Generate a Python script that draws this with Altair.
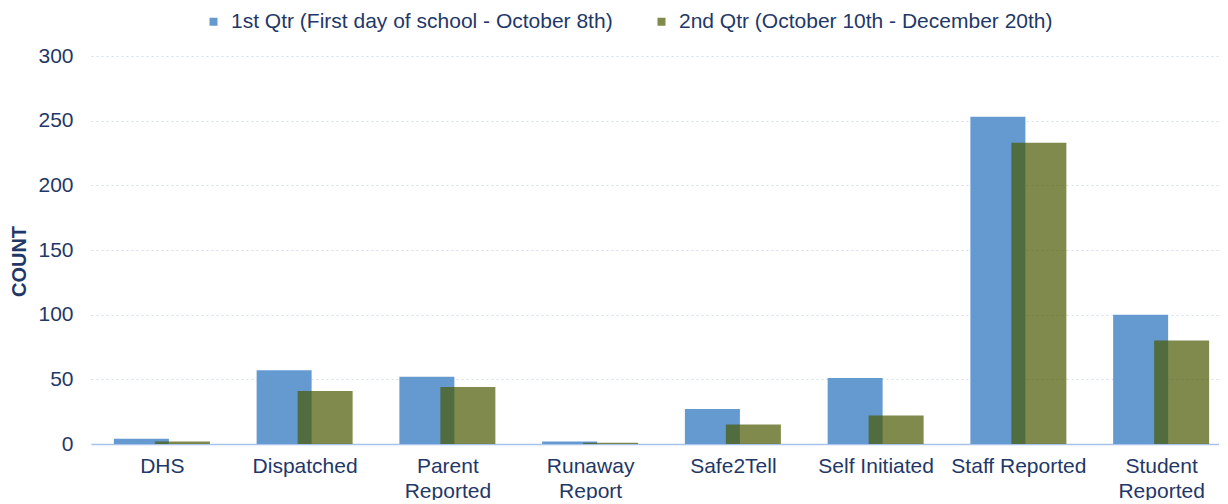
import altair as alt
import pandas as pd

categories = ["DHS", "Dispatched", "Parent Reported", "Runaway Report", "Safe2Tell",
              "Self Initiated", "Staff Reported", "Student Reported"]
q1_name = "1st Qtr (First day of school - October 8th)"
q2_name = "2nd Qtr (October 10th - December 20th)"
q1_values = [4, 57, 52, 2, 27, 51, 253, 100]
q2_values = [2, 41, 44, 1, 15, 22, 233, 80]
y_ticks = [0, 50, 100, 150, 200, 250, 300]

rows = []
for c, v in zip(categories, q1_values):
    rows.append({"category": c, "quarter": q1_name, "count": v})
for c, v in zip(categories, q2_values):
    rows.append({"category": c, "quarter": q2_name, "count": v})
df = pd.DataFrame(rows)

FONT = "Liberation Sans"
NAVY = "#1F3868"

x_enc = alt.X(
    "category:N",
    sort=categories,
    scale=alt.Scale(paddingInner=0, paddingOuter=0, range=[0, 1142]),
    axis=alt.Axis(
        title=None,
        labelAngle=0,
        labelFont=FONT,
        labelFontSize=21,
        labelColor=NAVY,
        labelPadding=11,
        labelLineHeight=25,
        labelExpr="(datum.label == 'Self Initiated' || datum.label == 'Staff Reported') ? datum.label : split(datum.label, ' ')",
        ticks=False,
        domain=True,
        domainColor="#A9C2EA",
        domainWidth=1.5,
        grid=False,
    ),
)
y_enc = alt.Y(
    "count:Q",
    scale=alt.Scale(domain=[0, 300], nice=False),
    axis=alt.Axis(
        values=y_ticks,
        title="COUNT",
        titleFont=FONT,
        titleFontSize=20,
        titleFontWeight="bold",
        titleColor=NAVY,
        titleX=-72,
        titleY=205,
        titleAngle=-90,
        titleAlign="center",
        titleBaseline="middle",
        labelFont=FONT,
        labelFontSize=21,
        labelColor=NAVY,
        labelPadding=18,
        ticks=False,
        domain=False,
        grid=True,
        gridColor="#D3DDEF",
        gridDash=[2, 3],
        gridWidth=1,
    ),
)
color_enc = alt.Color(
    "quarter:N",
    scale=alt.Scale(domain=[q1_name, q2_name], range=["#659AD0", "rgba(72,89,0,0.7)"]),
    legend=alt.Legend(
        title=None,
        orient="none",
        direction="horizontal",
        legendX=112,
        legendY=-45,
        symbolType="square",
        symbolSize=64,
        symbolStrokeWidth=0,
        labelFont=FONT,
        labelFontSize=21,
        labelColor=NAVY,
        labelOffset=7,
        labelLimit=600,
        columnPadding=38,
        padding=0,
    ),
)

base = alt.Chart(df).encode(x=x_enc, y=y_enc, color=color_enc)
blue = base.transform_filter(alt.datum.quarter == q1_name).mark_bar(size=55, xOffset=-21)
green = base.transform_filter(alt.datum.quarter == q2_name).mark_bar(size=55, xOffset=20)

chart = (
    alt.layer(blue, green)
    .properties(
        width=1128,
        height=388,
        background="white",
        padding={"left": 83, "top": 48, "right": 0, "bottom": 56},
        autosize=alt.AutoSizeParams(type="none"),
    )
    .configure_view(strokeWidth=0, stroke="transparent")
)

chart.save("out.html", embed_options={"renderer": "svg", "actions": False})
